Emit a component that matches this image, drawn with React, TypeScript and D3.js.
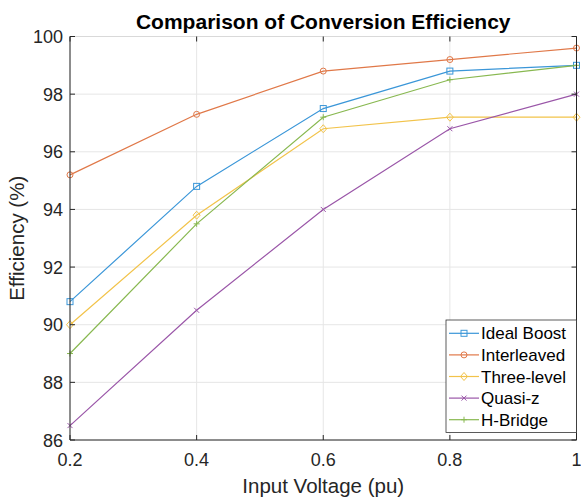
import React from 'react';
import { scaleLinear, line } from 'd3';

// input voltage (pu)
const voltages = [0.2, 0.4, 0.6, 0.8, 1.0];

const idealBoost = [90.8, 94.8, 97.5, 98.8, 99.0];
const interleaved = [95.2, 97.3, 98.8, 99.2, 99.6];
const threeLevel = [90.0, 93.8, 96.8, 97.2, 97.2];
const quasiZ = [86.5, 90.5, 94.0, 96.8, 98.0];
const hBridge = [89.0, 93.5, 97.2, 98.5, 99.0];

const seriesNames = ['Ideal Boost', 'Interleaved', 'Three-level', 'Quasi-z', 'H-Bridge'];
const seriesValues = [idealBoost, interleaved, threeLevel, quasiZ, hBridge];
const seriesColors = ['#3a96d8', '#e07848', '#f2c34a', '#9a56a8', '#88b850'];
const seriesMarkers = ['square', 'circle', 'diamond', 'x', 'plus'];

const xTicks = [0.2, 0.4, 0.6, 0.8, 1];
const yTicks = [86, 88, 90, 92, 94, 96, 98, 100];

const W = 581;
const H = 497;
const m = { left: 70, right: 4.5, top: 36.5, bottom: 57 };
const FONT = '"Liberation Sans", Arial, Helvetica, sans-serif';

const Marker = ({ kind, x, y, color }) => {
  const s = 3;
  if (kind === 'square')
    return <rect x={x - s} y={y - s} width={2 * s} height={2 * s} fill="none" stroke={color} strokeWidth={1} />;
  if (kind === 'circle')
    return <circle cx={x} cy={y} r={s} fill="none" stroke={color} strokeWidth={1} />;
  if (kind === 'diamond')
    return (
      <path d={`M${x},${y - 4}L${x + 3.5},${y}L${x},${y + 4}L${x - 3.5},${y}Z`} fill="none" stroke={color} strokeWidth={1} />
    );
  if (kind === 'x')
    return (
      <path d={`M${x - 2.5},${y - 2.5}L${x + 2.5},${y + 2.5}M${x - 2.5},${y + 2.5}L${x + 2.5},${y - 2.5}`} stroke={color} strokeWidth={1} />
    );
  return <path d={`M${x - 3},${y}L${x + 3},${y}M${x},${y - 3}L${x},${y + 3}`} stroke={color} strokeWidth={1} />;
};

const App = () => {
  const x = scaleLinear().domain([0.2, 1]).range([m.left, W - m.right]);
  const y = scaleLinear().domain([86, 100]).range([H - m.bottom, m.top]);
  const x0 = x.range()[0];
  const x1 = x.range()[1];
  const y0 = y.range()[0];
  const y1 = y.range()[1];

  const path = line<number>()
    .x((d, i) => x(voltages[i]))
    .y(d => y(d));

  const axisColor = '#262626';
  const tick = 5;

  // legend
  const lgX = 446;
  const lgY = 320;
  const lgW = x1 - lgX;
  const rowH = 21.6;

  return (
    <svg width={W} height={H} style={{ position: 'absolute', left: 0, top: 0 }} fontFamily={FONT}>
      <rect width={W} height={H} fill="#fff" />

      {/* grid */}
      {xTicks.map(t => (
        <line key={'gx' + t} x1={x(t)} x2={x(t)} y1={y0} y2={y1} stroke="#e6e6e6" strokeWidth={1} />
      ))}
      {yTicks.map(t => (
        <line key={'gy' + t} x1={x0} x2={x1} y1={y(t)} y2={y(t)} stroke="#e6e6e6" strokeWidth={1} />
      ))}

      {/* series */}
      {seriesValues.map((vals, si) => (
        <g key={seriesNames[si]}>
          <path d={path(vals)} fill="none" stroke={seriesColors[si]} strokeWidth={1.2} />
          {vals.map((v, i) => (
            <Marker key={i} kind={seriesMarkers[si]} x={x(voltages[i])} y={y(v)} color={seriesColors[si]} />
          ))}
        </g>
      ))}

      {/* axes box */}
      <line x1={x0} x2={x1} y1={y1} y2={y1} stroke="#d9d9d9" strokeWidth={1} />
      <line x1={x0} x2={x0} y1={y0} y2={y1} stroke={axisColor} strokeWidth={1} />
      <line x1={x0} x2={x1} y1={y0} y2={y0} stroke={axisColor} strokeWidth={1} />
      <line x1={x1} x2={x1} y1={y0} y2={y1} stroke={axisColor} strokeWidth={1} />

      {/* ticks */}
      {xTicks.map(t => (
        <g key={'tx' + t}>
          <line x1={x(t)} x2={x(t)} y1={y0} y2={y0 - tick} stroke={axisColor} />
          <line x1={x(t)} x2={x(t)} y1={y1} y2={y1 + tick} stroke={axisColor} />
          <text x={x(t)} y={y0 + 26} fontSize={18} fill={axisColor} textAnchor="middle">
            {t === 1 ? '1' : t.toFixed(1)}
          </text>
        </g>
      ))}
      {yTicks.map(t => (
        <g key={'ty' + t}>
          <line x1={x0} x2={x0 + tick} y1={y(t)} y2={y(t)} stroke={axisColor} />
          <line x1={x1} x2={x1 - tick} y1={y(t)} y2={y(t)} stroke={axisColor} />
          <text x={x0 - 7} y={y(t) + 6.5} fontSize={18} fill={axisColor} textAnchor="end">
            {t}
          </text>
        </g>
      ))}

      {/* labels */}
      <text x={(x0 + x1) / 2} y={29} fontSize={21} fontWeight="bold" fill="#000" textAnchor="middle">
        Comparison of Conversion Efficiency
      </text>
      <text x={(x0 + x1) / 2} y={493} fontSize={20.5} fill={axisColor} textAnchor="middle">
        Input Voltage (pu)
      </text>
      <text
        transform={`translate(24,${(y0 + y1) / 2}) rotate(-90)`}
        fontSize={20.5}
        fill={axisColor}
        textAnchor="middle"
      >
        Efficiency (%)
      </text>

      {/* legend */}
      <rect x={lgX} y={lgY} width={lgW} height={112.5} fill="#fff" stroke={axisColor} strokeWidth={0.75} />
      {seriesNames.map((name, i) => {
        const cy = lgY + 13.3 + i * rowH;
        return (
          <g key={'lg' + name}>
            <line x1={449} x2={479} y1={cy} y2={cy} stroke={seriesColors[i]} strokeWidth={1.2} />
            <Marker kind={seriesMarkers[i]} x={464} y={cy} color={seriesColors[i]} />
            <text x={481} y={cy + 6} fontSize={17} fill="#000">
              {name}
            </text>
          </g>
        );
      })}
    </svg>
  );
};

export default App;
